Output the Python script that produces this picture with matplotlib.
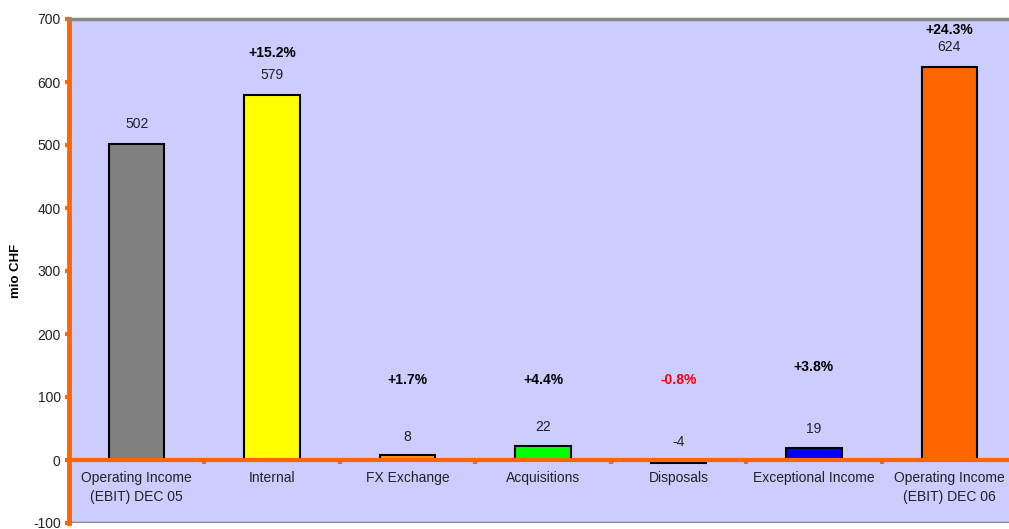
import matplotlib.pyplot as plt
from matplotlib.ticker import FixedLocator

plt.rcParams["font.family"] = ["Liberation Sans", "DejaVu Sans"]

categories = ["Operating Income\n(EBIT) DEC 05", "Internal", "FX Exchange",
              "Acquisitions", "Disposals", "Exceptional Income",
              "Operating Income\n(EBIT) DEC 06"]
values = [502, 579, 8, 22, -4, 19, 624]
changes = [None, "+15.2%", "+1.7%", "+4.4%", "-0.8%", "+3.8%", "+24.3%"]
change_y = [None, 646, 127, 127, 127, 148, 683]
value_y = [533, 611, 37, 52, 29, 49, 656]
colors = ["#808080", "#FFFF00", "#FF9900", "#00FF00", "#CCCCFF", "#0000FF", "#FF6600"]
yticks = [-100, 0, 100, 200, 300, 400, 500, 600, 700]

ORANGE = "#FF6600"

fig = plt.figure(figsize=(10.09, 5.29), dpi=100)
fig.patch.set_facecolor("white")
ax = fig.add_axes([69 / 1009, 6 / 529, 948 / 1009, 504 / 529])
ax.set_facecolor("#CCCCFF")

x = list(range(len(categories)))
ax.bar(x, values, width=0.41, color=colors, edgecolor="black", linewidth=1.5, zorder=2)

for i, v in enumerate(values):
    ax.text(i, value_y[i], str(v), ha="center", va="center", fontsize=10, color="#222222")
    if changes[i]:
        c = "red" if changes[i].startswith("-") else "black"
        ax.text(i, change_y[i], changes[i], ha="center", va="center",
                fontsize=10, fontweight="bold", color=c)

ax.set_xlim(-0.5, 6.5)
ax.set_ylim(-100, 700)
ax.set_yticks(yticks)
ax.set_yticklabels([str(t) for t in yticks])

# category labels sit under the zero line, ticks mark the category borders
ax.spines["bottom"].set_position(("data", 0))
ax.spines["bottom"].set_color(ORANGE)
ax.spines["bottom"].set_linewidth(3)
ax.spines["bottom"].set_zorder(3)
ax.spines["left"].set_color(ORANGE)
ax.spines["left"].set_linewidth(3.5)
for s in ("top", "right"):
    ax.spines[s].set_color("#888888")
    ax.spines[s].set_linewidth(2.5)

ax.set_xticks(x)
ax.set_xticklabels(categories, fontsize=10, color="#222222", linespacing=1.45)
ax.xaxis.set_minor_locator(FixedLocator([0.5, 1.5, 2.5, 3.5, 4.5, 5.5]))
ax.tick_params(axis="x", which="major", length=0, pad=8)
ax.tick_params(axis="x", which="minor", length=3, width=3, color=ORANGE)
ax.tick_params(axis="y", length=3, width=3, color=ORANGE, labelsize=10,
               labelcolor="#222222", pad=3)

# bottom border of the plot area
ax.axhline(-100, color="#888888", linewidth=2.5, zorder=1)

ax.set_ylabel("mio CHF", fontsize=9.5, fontweight="bold")
ax.yaxis.set_label_coords(-47 / 948, 0.5)

fig.savefig("out.png", dpi=100, facecolor=fig.get_facecolor())
